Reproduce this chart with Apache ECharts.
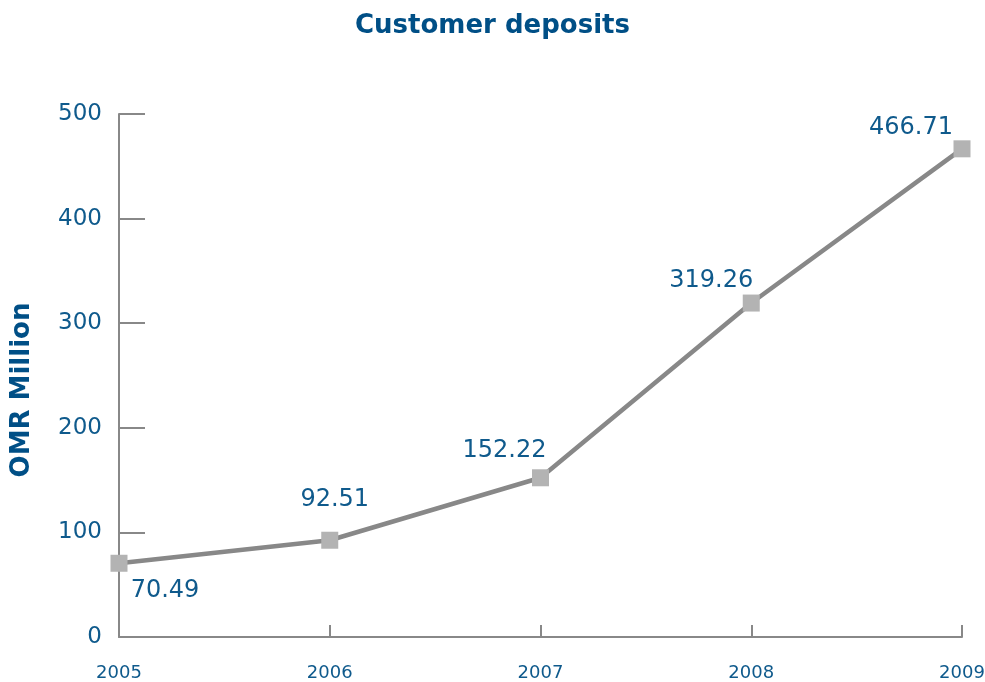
<!DOCTYPE html>
<html>
<head>
<meta charset="utf-8">
<script src="https://cdn.jsdelivr.net/npm/echarts@6/dist/echarts.min.js"></script>
<style>html,body{margin:0;padding:0;background:#fff}#c{width:985px;height:682px}</style>
</head>
<body>
<div id="c"></div>
<script>
const years = ['2005', '2006', '2007', '2008', '2009'];
const deposits = [70.49, 92.51, 152.22, 319.26, 466.71];
const yTicks = [0, 100, 200, 300, 400, 500];

const labelOffsets = [[46, 27], [5, -40], [-36, -27], [-40, -22], [-51, -21]];
const blue = '#0f5a8c';
const font = 'DejaVu Sans, Verdana, sans-serif';

const chart = echarts.init(document.getElementById('c'));
chart.setOption({
  animation: false,
  title: {
    text: 'Customer deposits',
    left: 'center', top: 8,
    textStyle: {fontFamily: font, fontSize: 26, fontWeight: 'bold', color: '#004f86'}
  },
  graphic: [{
    type: 'text', x: 22, y: 390, rotation: Math.PI / 2,
    style: {text: 'OMR Million', font: 'bold 26px DejaVu Sans', fill: '#004f86', textAlign: 'center', textVerticalAlign: 'middle'}
  }],
  grid: {left: 119, right: 23, top: 114, bottom: 45, containLabel: false, outerBoundsMode: 'none'},
  xAxis: {
    type: 'category', data: years, boundaryGap: false,
    axisLine: {lineStyle: {color: '#888', width: 2}},
    axisTick: {inside: true, length: 12, lineStyle: {color: '#888', width: 2}},
    axisLabel: {margin: 27, color: blue, fontFamily: font, fontSize: 18},
    splitLine: {show: false}
  },
  yAxis: {
    type: 'value', min: yTicks[0], max: yTicks[yTicks.length - 1], interval: 100,
    axisLine: {show: true, lineStyle: {color: '#888', width: 2}},
    axisTick: {show: true, inside: true, length: 26, lineStyle: {color: '#888', width: 2}},
    axisLabel: {margin: 17, color: blue, fontFamily: font, fontSize: 23},
    splitLine: {show: false}
  },
  series: [{
    type: 'line',
    data: deposits.map((v, i) => ({
      value: v,
      label: {show: true, position: 'inside', offset: labelOffsets[i], formatter: v.toFixed(2),
              color: blue, fontFamily: font, fontSize: 24}
    })),
    lineStyle: {color: '#888', width: 4.5},
    symbol: 'rect', symbolSize: 17,
    itemStyle: {color: '#b3b3b3'},
    z: 3
  }]
});
</script>
</body>
</html>
